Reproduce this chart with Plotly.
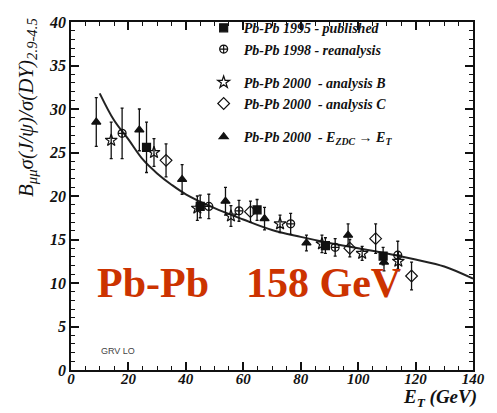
import plotly.graph_objects as go

# J/psi over Drell-Yan ratio vs transverse energy, Pb-Pb at 158 GeV
pub95_x = [26.3, 45.0, 64.8, 88.6, 108.7]
pub95_y = [25.6, 18.8, 18.4, 14.3, 13.1]
pub95_e = [2.9, 1.3, 1.2, 0.9, 1.0]

re98_x = [17.8, 48.0, 58.5, 76.5, 92.0, 113.8]
re98_y = [27.2, 18.8, 18.3, 16.8, 14.1, 13.2]
re98_e = [2.9, 1.4, 1.2, 1.2, 1.0, 1.6]

anB_x = [14.0, 28.9, 44.0, 55.7, 72.8, 87.4, 101.4, 114.0]
anB_y = [26.4, 25.0, 18.6, 17.7, 16.8, 14.5, 13.4, 12.5]
anB_e = [2.1, 1.6, 1.4, 1.2, 1.0, 1.0, 0.8, 1.1]

anC_x = [33.1, 62.5, 97.1, 106.1, 118.6]
anC_y = [24.1, 18.2, 14.0, 15.1, 10.8]
anC_e = [1.9, 1.2, 1.0, 1.7, 1.6]

zdc_x = [8.8, 23.8, 38.7, 53.8, 67.4, 82.0, 96.5, 109.0]
zdc_y = [28.5, 27.6, 21.9, 19.4, 17.4, 14.6, 15.5, 12.4]
zdc_e = [2.8, 2.4, 1.7, 1.6, 1.3, 0.9, 1.3, 1.0]

# GRV LO expectation
grv_x = [10, 15, 20, 25, 30, 35, 40, 50, 60, 70, 80, 90, 100, 110, 120, 130, 140]
grv_y = [31.8, 28.7, 26.5, 24.2, 22.6, 21.3, 20.2, 18.6, 17.3, 16.1, 15.3, 14.6, 14.0, 13.4, 12.7, 11.9, 10.5]

SERIF = "Liberation Serif"

fig = go.Figure()

fig.add_trace(go.Scatter(x=grv_x, y=grv_y, mode="lines", line=dict(color="#222", width=2, shape="spline"),
                         showlegend=False, hoverinfo="skip"))


def add_series(x, y, e, name, symbol, size, group, lw=1.2):
    fig.add_trace(go.Scatter(
        x=x, y=y, mode="markers", name=name, legendgroup=group,
        error_y=dict(type="data", array=e, color="#111", thickness=1.3, width=1.5),
        marker=dict(symbol=symbol, size=size, color="#111", line=dict(color="#111", width=lw)),
    ))


add_series(pub95_x, pub95_y, pub95_e, "Pb-Pb 1995 - published", "square", 8, "g1")
add_series(re98_x, re98_y, re98_e, "Pb-Pb 1998 - reanalysis", "circle-cross-open", 8, "g1")
add_series(anB_x, anB_y, anB_e, "Pb-Pb 2000  - analysis B", "star-open", 9, "g2")
add_series(anC_x, anC_y, anC_e, "Pb-Pb 2000  - analysis C", "diamond-open", 9, "g2")
add_series(zdc_x, zdc_y, zdc_e, "Pb-Pb 2000  - E<sub>ZDC</sub> → E<sub>T</sub>", "triangle-up", 8, "g3")

axis_common = dict(
    showline=True, linecolor="#111", linewidth=1.5, mirror="ticks",
    ticks="inside", ticklen=8, tickwidth=1.5, tickcolor="#111",
    showgrid=False, zeroline=False,
)

fig.update_xaxes(range=[0, 140], dtick=20, tick0=0, ticklabelstandoff=-6,
                 tickfont=dict(family=SERIF, size=15, color="#111", style="italic", weight="bold"),
                 minor=dict(dtick=5, ticks="inside", ticklen=4, tickwidth=1.2, tickcolor="#111"),
                 **axis_common)
fig.update_yaxes(range=[0, 40], dtick=5, tick0=0,
                 tickfont=dict(family=SERIF, size=16, color="#111", style="italic", weight="bold"),
                 minor=dict(dtick=1, ticks="inside", ticklen=4, tickwidth=1.2, tickcolor="#111"),
                 **axis_common)

fig.add_annotation(text="B<sub>μμ</sub>σ(J/ψ)/σ(DY)<sub>2.9-4.5</sub>", textangle=-90,
                   xref="paper", yref="paper", x=-0.11, y=0.755, xanchor="center", yanchor="middle",
                   showarrow=False,
                   font=dict(family=SERIF, size=21, color="#111", style="italic"))

fig.add_annotation(text="E<sub>T</sub> (GeV)", xref="paper", yref="paper", x=1.015, y=-0.121,
                   xanchor="right", yanchor="bottom", showarrow=False,
                   font=dict(family=SERIF, size=19, color="#111", style="italic", weight="bold"))

fig.add_annotation(text="GRV LO", x=9.9, y=2.2, xanchor="left", yanchor="middle", showarrow=False,
                   font=dict(family="Liberation Sans", size=9, color="#444"))

fig.add_annotation(text="Pb-Pb", x=28.7, y=10.0, showarrow=False, xanchor="center", yanchor="middle",
                   font=dict(family=SERIF, size=42, color="#CC3300", weight="bold"))
fig.add_annotation(text="158 GeV", x=88.0, y=10.0, showarrow=False, xanchor="center", yanchor="middle",
                   font=dict(family=SERIF, size=42, color="#CC3300", weight="bold"))

fig.update_layout(
    width=497, height=413,
    margin=dict(l=71, r=14, t=12, b=43),
    paper_bgcolor="white", plot_bgcolor="white",
    showlegend=True,
    legend=dict(x=0.33, y=1.028, xanchor="left", yanchor="top", bgcolor="rgba(0,0,0,0)",
                tracegroupgap=12, itemwidth=30,
                font=dict(family=SERIF, size=14, color="#111", style="italic", weight="bold")),
)

fig.write_html("out.html")
